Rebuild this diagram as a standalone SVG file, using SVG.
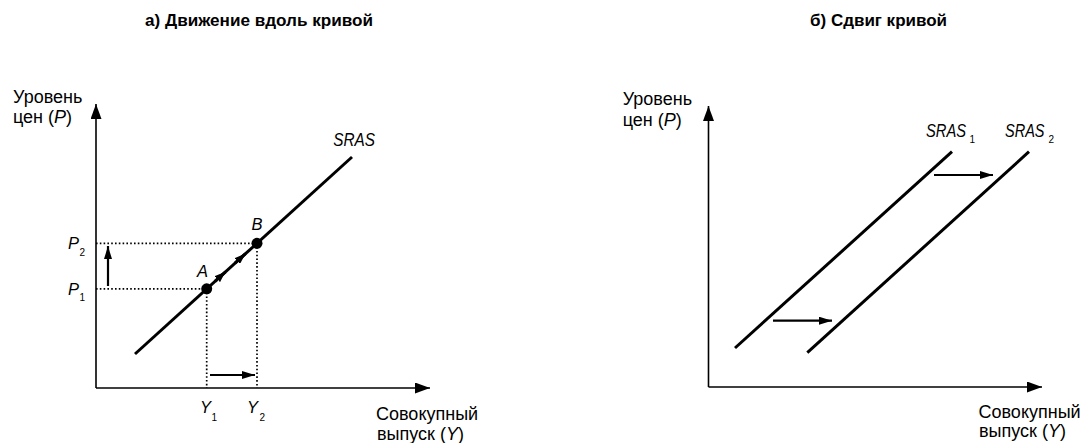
<svg xmlns="http://www.w3.org/2000/svg" width="1086" height="443" viewBox="0 0 1086 443">
<style>
text{font-family:"Liberation Sans",Arial,sans-serif;fill:#000}
.t{font-size:16px;font-weight:bold}
.lbl{font-size:18px}
.it{font-style:italic}
.v{font-size:16.5px;font-style:italic}
.sub{font-size:10px;font-style:normal}
.axis{stroke:#000;stroke-width:1.6;fill:none}
.curve{stroke:#000;stroke-width:3;fill:none}
.dot{stroke:#000;stroke-width:1.7;stroke-dasharray:1.6 2.2;fill:none}
.arr{stroke:#000;stroke-width:2.2;fill:none}
</style>
<defs>
<marker id="axisHead" markerUnits="userSpaceOnUse" markerWidth="15" markerHeight="11" refX="15" refY="5.5" orient="auto"><path d="M0,0 L15,5.5 L0,11 Z" fill="#000"/></marker>
<marker id="head" markerUnits="userSpaceOnUse" markerWidth="13" markerHeight="8" refX="13" refY="4" orient="auto"><path d="M0,0 L13,4 L0,8 Z" fill="#000"/></marker>
<marker id="small" markerUnits="userSpaceOnUse" markerWidth="11" markerHeight="8" refX="11" refY="4" orient="auto"><path d="M0,0 L11,4 L0,8 Z" fill="#000"/></marker>
</defs>

<text class="t" x="145" y="26" textLength="228" lengthAdjust="spacingAndGlyphs">а) Движение вдоль кривой</text>
<text class="t" x="810" y="26" textLength="137" lengthAdjust="spacingAndGlyphs">б) Сдвиг кривой</text>

<g id="connectors">
<path class="axis" d="M96,388 L96,104" marker-end="url(#axisHead)"/>
<path class="axis" d="M96,388 L430,388" marker-end="url(#axisHead)"/>
<path class="curve" d="M135,354 L352,157"/>
<path class="dot" d="M96,243.3 L257,243.3"/>
<path class="dot" d="M96,288.8 L206.7,288.8"/>
<path class="dot" d="M206.7,288.8 L206.7,388"/>
<path class="dot" d="M257,243.3 L257,388"/>
<path class="arr" d="M108,286 L108,246" marker-end="url(#head)"/>
<path class="arr" d="M210,375 L255,375" marker-end="url(#head)"/>
<path class="curve" d="M215,281.3 L225.5,271.8" marker-end="url(#small)"/>
<path class="curve" d="M235,263.1 L245.5,253.6" marker-end="url(#small)"/>
<path class="axis" d="M708.5,387 L708.5,106" marker-end="url(#axisHead)"/>
<path class="axis" d="M708.5,387 L1042,387" marker-end="url(#axisHead)"/>
<path class="curve" d="M735,348 L952,151.7"/>
<path class="curve" d="M807.3,352.7 L1029,151.7"/>
<path class="arr" d="M934,175 L993,175" marker-end="url(#head)"/>
<path class="arr" d="M773,320.7 L832,320.7" marker-end="url(#head)"/>
</g>

<g id="pointA">
<circle cx="206.7" cy="288.8" r="5.5" fill="#000"/>
<text class="v" x="197" y="277">A</text>
</g>
<g id="pointB">
<circle cx="257" cy="243.3" r="5.5" fill="#000"/>
<text class="v" x="251.5" y="230">B</text>
</g>

<g id="labels-left">
<text class="lbl" x="13" y="103">Уровень</text>
<text class="lbl" x="13" y="123">цен (<tspan class="it">P</tspan>)</text>
<text class="lbl" x="376" y="420">Совокупный</text>
<text class="lbl" x="377" y="440">выпуск (<tspan class="it">Y</tspan>)</text>
<text class="lbl it" x="333.3" y="146" textLength="41.7" lengthAdjust="spacingAndGlyphs">SRAS</text>
<text class="v" x="68" y="249.3">P<tspan class="sub" x="79.5" y="255.7">2</tspan></text>
<text class="v" x="68" y="295">P<tspan class="sub" x="79.5" y="301.3">1</tspan></text>
<text class="v" x="200" y="413.3">Y<tspan class="sub" x="211.5" y="420.7">1</tspan></text>
<text class="v" x="247" y="413.3">Y<tspan class="sub" x="259.5" y="420.7">2</tspan></text>
</g>

<g id="labels-right">
<text class="lbl" x="622.7" y="105">Уровень</text>
<text class="lbl" x="622.7" y="126">цен (<tspan class="it">P</tspan>)</text>
<text class="lbl" x="978.5" y="418">Совокупный</text>
<text class="lbl" x="979" y="437">выпуск (<tspan class="it">Y</tspan>)</text>
<text class="lbl it" x="926" y="137"><tspan textLength="40" lengthAdjust="spacingAndGlyphs">SRAS</tspan><tspan class="sub" x="969.5" y="143.3">1</tspan></text>
<text class="lbl it" x="1005" y="137"><tspan textLength="39.5" lengthAdjust="spacingAndGlyphs">SRAS</tspan><tspan class="sub" x="1048.5" y="143.3">2</tspan></text>
</g>
</svg>
